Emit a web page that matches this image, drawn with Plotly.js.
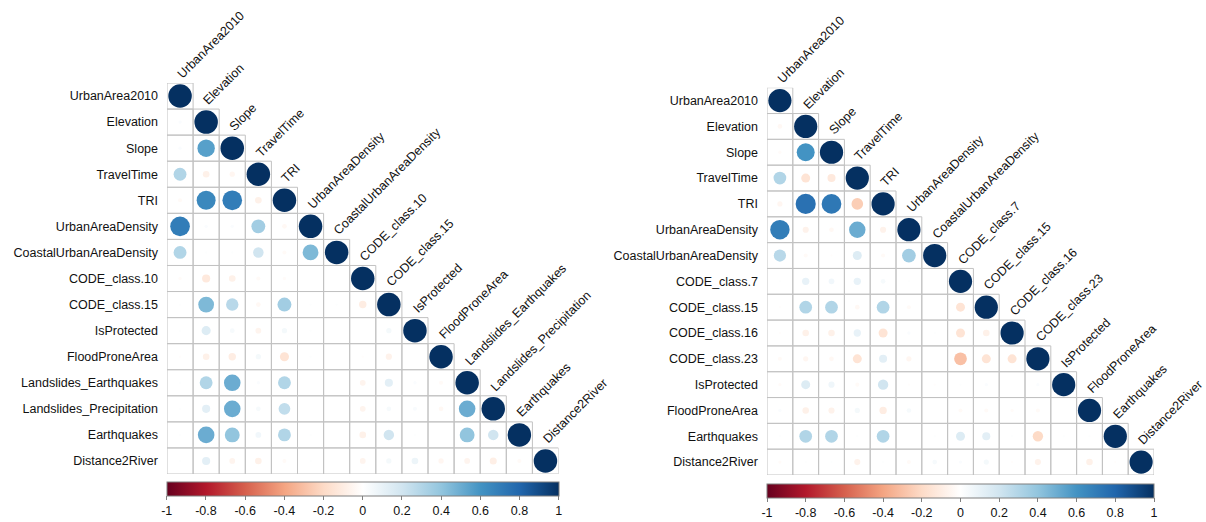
<!DOCTYPE html>
<html>
<head>
<meta charset="utf-8">
<script src="https://cdn.plot.ly/plotly-3.0.1.min.js"></script>
<style>html,body{margin:0;padding:0;background:#fff;}#chart{width:1206px;height:522px;}</style>
</head>
<body>
<div id="chart"></div>
<script>
// ---- Data: left correlation matrix (lower triangle, row by row) ----
const namesLeft = ["UrbanArea2010","Elevation","Slope","TravelTime","TRI","UrbanAreaDensity",
  "CoastalUrbanAreaDensity","CODE_class.10","CODE_class.15","IsProtected","FloodProneArea",
  "Landslides_Earthquakes","Landslides_Precipitation","Earthquakes","Distance2River"];
const corrLeft = [
  [1],
  [0.02, 1],
  [0.02, 0.55, 1],
  [0.30, -0.08, -0.05, 1],
  [-0.03, 0.65, 0.70, -0.08, 1],
  [0.70, 0.02, 0.02, 0.35, -0.04, 1],
  [0.30, 0.01, 0.01, 0.20, -0.03, 0.45, 1],
  [-0.02, -0.12, -0.08, -0.03, -0.02, 0.00, 0.00, 1],
  [0.01, 0.45, 0.28, -0.04, 0.35, 0.01, 0.01, -0.10, 1],
  [0.01, 0.15, 0.04, -0.06, 0.05, 0.01, 0.00, 0.00, 0.05, 1],
  [-0.01, -0.08, -0.10, 0.05, -0.15, 0.01, 0.00, -0.01, -0.07, 0.00, 1],
  [0.01, 0.30, 0.50, 0.02, 0.30, 0.00, 0.00, -0.06, 0.12, 0.02, -0.03, 1],
  [0.01, 0.12, 0.50, 0.04, 0.25, 0.00, 0.00, -0.06, 0.04, 0.03, -0.04, 0.50, 1],
  [0.01, 0.50, 0.40, 0.06, 0.30, 0.01, 0.00, -0.08, 0.20, 0.01, 0.00, 0.40, 0.20, 1],
  [0.01, 0.12, -0.06, -0.08, -0.03, 0.01, 0.00, -0.06, 0.05, 0.08, -0.05, -0.06, -0.09, -0.03, 1]
];

// ---- Data: right correlation matrix ----
const namesRight = ["UrbanArea2010","Elevation","Slope","TravelTime","TRI","UrbanAreaDensity",
  "CoastalUrbanAreaDensity","CODE_class.7","CODE_class.15","CODE_class.16","CODE_class.23",
  "IsProtected","FloodProneArea","Earthquakes","Distance2River"];
const corrRight = [
  [1],
  [-0.04, 1],
  [-0.02, 0.60, 1],
  [0.30, -0.15, -0.12, 1],
  [-0.05, 0.75, 0.72, -0.25, 1],
  [0.70, -0.07, -0.04, 0.50, -0.07, 1],
  [0.28, -0.03, -0.01, 0.15, -0.03, 0.35, 1],
  [0.01, 0.10, 0.06, 0.10, 0.04, 0.01, 0.00, 1],
  [-0.01, 0.30, 0.30, -0.04, 0.30, -0.03, 0.00, -0.15, 1],
  [-0.01, -0.08, -0.08, 0.10, -0.15, 0.02, 0.01, -0.15, -0.08, 1],
  [-0.03, -0.05, -0.04, -0.15, 0.12, -0.05, 0.00, -0.30, -0.15, -0.15, 1],
  [-0.02, 0.15, 0.07, -0.03, 0.20, -0.01, -0.01, 0.01, 0.02, 0.00, 0.02, 1],
  [0.02, -0.08, -0.07, 0.05, -0.10, 0.04, 0.00, -0.03, -0.03, -0.02, -0.03, 0.00, 1],
  [0.01, 0.30, 0.30, 0.01, 0.30, 0.00, 0.01, 0.15, 0.12, 0.01, -0.20, 0.01, 0.01, 1],
  [-0.02, 0.01, 0.01, -0.07, 0.01, -0.03, 0.04, 0.02, 0.05, -0.01, -0.07, 0.00, -0.08, -0.01, 1]
];

const colorTicks = [-1,-0.8,-0.6,-0.4,-0.2,0,0.2,0.4,0.6,0.8,1];
const colorTickText = ["-1","-0.8","-0.6","-0.4","-0.2","0","0.2","0.4","0.6","0.8","1"];

// ---- Styling ----
const W = 1206, H = 522;
const rdbu = [[0,'#67001F'],[0.1,'#B2182B'],[0.2,'#D6604D'],[0.3,'#F4A582'],[0.4,'#FDDBC7'],
  [0.5,'#FFFFFF'],[0.6,'#D1E5F0'],[0.7,'#92C5DE'],[0.8,'#4393C3'],[0.9,'#2166AC'],[1,'#053061']];
const font = {family:'"Liberation Sans", Arial, sans-serif', size:12.5, color:'#111'};

const panels = [
  {names:namesLeft, corr:corrLeft, px:[167,558.5], py:[83,474], xa:'x', ya:'y', cbY:482},
  {names:namesRight, corr:corrRight, px:[767,1154], py:[87.7,475], xa:'x2', ya:'y2', cbY:484}
];

const traces = [], shapes = [], annotations = [];
const layout = {
  width:W, height:H, margin:{l:0,r:0,t:0,b:0}, showlegend:false,
  paper_bgcolor:'#fff', plot_bgcolor:'rgba(0,0,0,0)', font:font
};

panels.forEach((p, k) => {
  const n = p.names.length;
  const cell = (p.px[1]-p.px[0]) / n;
  const xs=[], ys=[], cs=[], ss=[];
  p.corr.forEach((row, i) => {
    row.forEach((v, j) => {
      xs.push(j); ys.push(i); cs.push(v);
      ss.push(Math.max(0.9*Math.sqrt(Math.abs(v))*cell, 0.01));
      shapes.push({type:'rect', xref:p.xa, yref:p.ya, x0:j-0.5, x1:j+0.5, y0:i-0.5, y1:i+0.5,
        line:{color:'#C2C2C2', width:1}, fillcolor:'rgba(0,0,0,0)', layer:'below'});
    });
  });
  const cbLen = p.px[1]-p.px[0];
  traces.push({
    type:'scatter', mode:'markers', x:xs, y:ys, xaxis:p.xa, yaxis:p.ya, hoverinfo:'skip',
    marker:{size:ss, color:cs, cmin:-1, cmax:1, colorscale:rdbu, line:{width:0}, opacity:1,
      showscale:true,
      colorbar:{orientation:'h', x:(p.px[0]+p.px[1])/2/W, xanchor:'center', y:1-p.cbY/H, yanchor:'top',
        len:cbLen, lenmode:'pixels', thickness:14, thicknessmode:'pixels', xpad:0, ypad:0,
        outlinecolor:'#7f7f7f', outlinewidth:1, ticks:'outside', ticklen:4, tickcolor:'#7f7f7f',
        tickvals:colorTicks, ticktext:colorTickText, tickfont:{family:font.family, size:12.5, color:'#111'}}
    }
  });
  const suffix = k===0 ? '' : '2';
  layout['xaxis'+suffix] = {domain:[p.px[0]/W, p.px[1]/W], range:[-0.5, n-0.5], showgrid:false,
    zeroline:false, showticklabels:false, showline:false, ticks:'', anchor:p.ya, fixedrange:true};
  layout['yaxis'+suffix] = {domain:[1-p.py[1]/H, 1-p.py[0]/H], range:[n-0.5, -0.5], showgrid:false,
    zeroline:false, showline:false, ticks:'', tickvals:p.names.map((_,i)=>i), ticktext:p.names,
    ticklabelstandoff:8, tickfont:font, anchor:p.xa, fixedrange:true};
  p.names.forEach((nm, i) => {
    annotations.push({xref:p.xa, yref:p.ya, x:i, y:i-0.5, text:nm, showarrow:false,
      textangle:-45, xanchor:'left', yanchor:'bottom', xshift:-8, yshift:-1, font:font});
  });
});
layout.shapes = shapes;
layout.annotations = annotations;

Plotly.newPlot('chart', traces, layout, {staticPlot:true, displayModeBar:false});
</script>
</body>
</html>
